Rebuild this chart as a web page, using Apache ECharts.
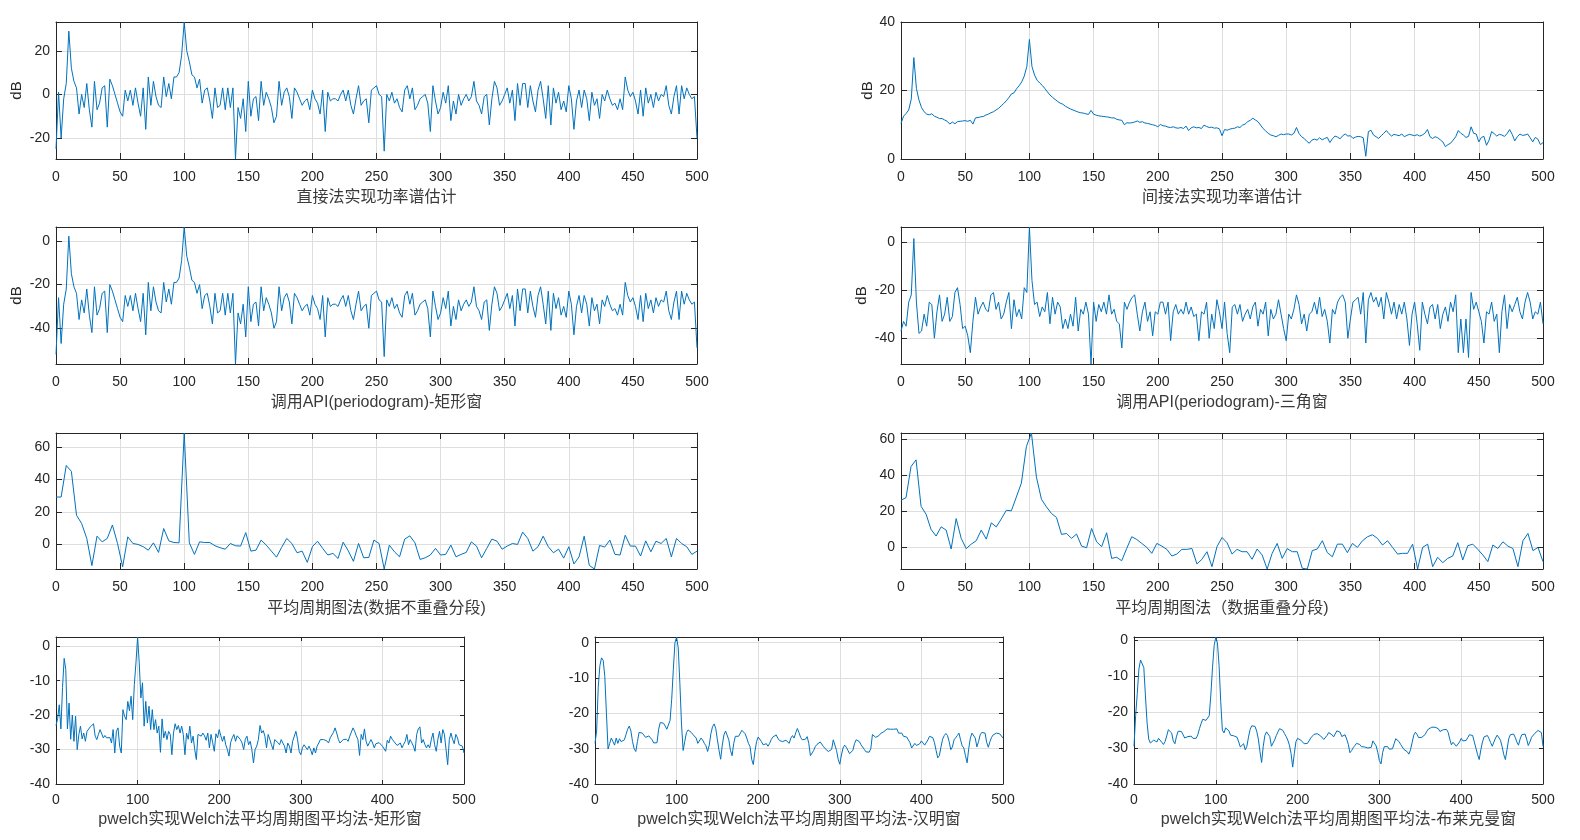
<!DOCTYPE html>
<html><head><meta charset="utf-8">
<script src="https://cdn.jsdelivr.net/npm/echarts@6/dist/echarts.min.js"></script>
<style>html,body{margin:0;padding:0;background:#fff}#c{width:1580px;height:840px}</style>
</head><body><div id="c"></div>
<script>
// ---------- data (dB values, equally spaced bins from 0 to 500 Hz) ----------
const directDb = [
 -25, 1, -20, -2, 5, 29, 12, 6, 3, -9,
 0, -6, 5, -7, -15, 6, -7, -4, 3, 4,
 -15, 7, 4, 0, -4, -8, -10, 2, -3, 2,
 -5, 3, -4, -10, 3, -16, 8, -5, 6, -1,
 -5, -6, 8, -1, 5, -2, 8, 8, 10, 18,
 33.2, 20, 15, 9, 8, 3, 7, -4, 2, 3,
 -3, -11, 3, -6, -5, 3, -7, 3, -6, 3,
 -29.6, -6, -11, -2, -17, 6, -10, -2, -1, -12,
 6, -5, 1, -2, -6, -13, -10, 6, -5, 1,
 3, -1, -11, 3, 1, -2, -5, -3, -2, -7,
 2, -2, -4, -9, 2, -17, 1, -3, -2, -2,
 -3, 0, 2, -3, 2, -5, -9, -2, 4, -5,
 -3, -2, -13, 2, 3, 4, 0, -1, -26, 0,
 -3, 1, -4, -2, -6, -8, 2, 4, -2, 3,
 -7, -5, -2, -1, 0, -4, -17, 4, -3, -9,
 -6, 1, -4, 4, -12, -3, -9, 0, -5, -2,
 0, -3, -1, 6, -3, -5, -9, -1, 0, -14,
 -2, 6, 3, -5, -3, 0, 3, -4, 2, -12,
 5, -5, 5, 5, -6, 4, -3, -8, 2, 6,
 -2, -11, 4, -14, 3, -4, 1, -7, -3, -8,
 4, -2, -16, -3, 2, -6, 2, -2, -12, 1,
 -5, -2, -11, 0, -3, 2, -2, -5, -4, -7,
 -2, -7, 8, 2, -1, 1, -3, -9, 2, -10,
 3, -4, 0, -6, 1, -3, 0, -1, 4, -5,
 -9, -1, 4, -9, 4, -2, 3, 0, -2, -1,
 -20];

const indirectDb = [
 10.4, 12.5, 13.3, 14.3, 17.5, 29.6, 20.6, 17.2, 15.0, 13.8,
 13.1, 12.9, 13.2, 12.5, 12.2, 11.8, 11.8, 11.4, 11.0, 10.2,
 10.8, 10.3, 10.9, 11.0, 11.1, 11.2, 11.0, 11.3, 10.2, 12.0,
 12.1, 12.3, 12.4, 12.8, 13.1, 13.5, 13.8, 14.3, 14.8, 15.5,
 16.2, 17.0, 17.9, 19.0, 19.3, 20.5, 21.4, 22.5, 24.2, 27.0,
 34.9, 27.0, 24.5, 23.0, 22.2, 21.5, 20.6, 19.6, 18.7, 18.0,
 17.4, 16.8, 16.3, 16.0, 15.4, 15.0, 14.6, 14.3, 14.0, 13.7,
 13.5, 13.4, 13.2, 13.0, 14.2, 13.1, 12.8, 12.6, 12.5, 12.4,
 12.3, 12.2, 12.0, 12.0, 11.6, 11.4, 11.3, 10.0, 10.6, 10.5,
 10.6, 10.8, 11.1, 10.7, 10.9, 10.5, 10.4, 10.2, 10.0, 9.8,
 9.4, 10.1, 9.7, 9.6, 9.3, 9.2, 9.4, 9.1, 9.0, 9.2,
 8.9, 9.6, 8.3, 9.1, 9.4, 9.1, 9.2, 8.9, 9.9, 9.5,
 9.2, 9.3, 9.0, 9.1, 8.8, 6.8, 8.6, 8.4, 8.7, 8.9,
 9.0, 9.4, 9.2, 9.9, 10.2, 10.9, 11.3, 11.9, 11.4, 10.9,
 9.9, 8.9, 8.2, 7.5, 7.0, 6.8, 6.5, 6.9, 7.3, 7.1,
 7.3, 7.3, 7.0, 7.5, 9.2, 7.4, 6.5, 6.0, 5.2, 4.6,
 5.5, 5.8, 5.5, 6.2, 5.6, 6.0, 6.3, 4.8, 5.9, 6.7,
 6.4, 5.9, 6.8, 7.3, 6.7, 6.8, 6.0, 6.4, 6.6, 6.5,
 6.2, 0.8, 8.0, 8.4, 7.0, 6.5, 6.0, 6.8, 7.5, 8.3,
 7.4, 6.7, 7.2, 7.0, 6.8, 7.3, 6.5, 6.9, 7.2, 7.0,
 6.8, 7.1, 6.7, 7.0, 7.5, 8.6, 6.5, 6.0, 6.5, 6.2,
 5.6, 5.0, 3.6, 4.2, 4.6, 5.5, 6.5, 8.3, 7.5, 7.0,
 6.3, 6.6, 9.4, 7.5, 7.3, 5.0, 6.3, 6.6, 4.0, 5.5,
 8.0, 7.4, 6.7, 7.2, 7.0, 6.6, 7.4, 8.6, 7.2, 5.3,
 6.5, 7.3, 6.9, 7.0, 7.3, 6.2, 5.0, 6.3, 5.8, 4.2,
 4.8];

const periodogramRectDb = [
 -52, -26, -47, -29, -22, 2.2, -15, -21, -24, -36,
 -27, -33, -22, -34, -42, -21, -34, -31, -24, -23,
 -42, -20, -23, -27, -31, -35, -37, -25, -30, -25,
 -32, -24, -31, -37, -24, -43, -19, -32, -21, -28,
 -32, -33, -19, -28, -22, -29, -19, -19, -17, -9,
 6.4, -7, -12, -18, -19, -24, -20, -31, -25, -24,
 -30, -38, -24, -33, -32, -24, -34, -24, -33, -24,
 -56.4, -33, -38, -29, -44, -21, -37, -29, -28, -39,
 -21, -32, -26, -29, -33, -40, -37, -21, -32, -26,
 -24, -28, -38, -24, -26, -29, -32, -30, -29, -34,
 -25, -29, -31, -36, -25, -44, -26, -30, -29, -29,
 -30, -27, -25, -30, -25, -32, -36, -29, -23, -32,
 -30, -29, -40, -25, -24, -23, -27, -28, -53, -27,
 -30, -26, -31, -29, -33, -35, -25, -23, -29, -24,
 -34, -32, -29, -28, -27, -31, -44, -23, -30, -36,
 -33, -26, -31, -23, -39, -30, -36, -27, -32, -29,
 -27, -30, -28, -21, -30, -32, -36, -28, -27, -41,
 -29, -21, -24, -32, -30, -27, -24, -31, -25, -39,
 -22, -32, -22, -22, -33, -23, -30, -35, -25, -21,
 -29, -38, -23, -41, -24, -31, -26, -34, -30, -35,
 -23, -29, -43, -30, -25, -33, -25, -29, -39, -26,
 -32, -29, -38, -27, -30, -25, -29, -32, -31, -34,
 -29, -34, -19, -25, -28, -26, -30, -36, -25, -37,
 -24, -31, -27, -33, -26, -30, -27, -28, -23, -32,
 -36, -28, -23, -36, -23, -29, -24, -27, -29, -28,
 -49];

const periodogramTriDb = [
 -37, -33, -35, -25, -22, 1.4, -25, -38, -37, -30,
 -35, -25, -26, -40, -29, -22, -33, -30, -23, -33,
 -31, -21, -19, -26, -36, -35, -39, -46, -33, -23,
 -30, -27, -25, -28, -29, -22, -21, -28, -25, -32,
 -30, -25, -21, -36, -24, -31, -28, -32, -19, -21,
 6.2, -16, -26, -25, -31, -27, -29, -21, -34, -23,
 -30, -25, -27, -36, -32, -36, -30, -35, -23, -37,
 -28, -30, -25, -30, -50.7, -25, -33, -26, -29, -25,
 -30, -22, -30, -28, -33, -34, -44, -25, -28, -25,
 -23, -22, -30, -37, -29, -25, -33, -29, -39, -29,
 -30, -25, -25, -30, -25, -41, -29, -26, -30, -28,
 -30, -25, -30, -27, -31, -30, -41, -29, -30, -25,
 -40, -30, -36, -24, -29, -36, -25, -38, -46, -27,
 -26, -30, -26, -33, -30, -28, -32, -27, -25, -35,
 -28, -30, -25, -39, -28, -32, -30, -24, -30, -36,
 -41, -30, -32, -28, -22, -26, -34, -30, -37, -30,
 -29, -25, -30, -23, -31, -28, -33, -42, -28, -30,
 -25, -23, -22, -25, -40, -32, -25, -24, -23, -30,
 -21, -42, -24, -21, -25, -23, -27, -23, -32, -21,
 -25, -30, -25, -32, -26, -30, -25, -32, -43, -30,
 -25, -34, -45, -25, -30, -34, -27, -26, -32, -26,
 -36, -30, -27, -33, -25, -29, -22, -46, -32, -46,
 -32, -48, -21, -28, -25, -29, -33, -42, -29, -30,
 -25, -33, -30, -46, -29, -22, -36, -26, -29, -26,
 -23, -29, -32, -25, -21, -25, -32, -29, -30, -25,
 -34];

const avgNoOverlapDb = [
 29.2, 29.2, 48.6, 45, 18, 12.9, 3.7, -13, 5.1, 1.6,
 3.7, 12, 0.6, -13.7, 4.7, 0.6, 0, -1.4, -3.5, 1,
 -4.9, 9.8, 2.2, 1.2, 1, 68.6, 1, -6.1, 1.6, 1.2,
 1.2, -0.8, -2, -2.9, 0.6, -0.8, -1, 7.3, -4.1, -3.5,
 2.7, -0.4, -4.1, -7.8, -1.8, 3.7, 0.6, -5.1, -4.1, -11,
 -1.4, 2, -2.4, -6.5, -5.5, -8.6, 1.4, -3.9, -10.4, 0.6,
 -8.2, -8, 2.7, 0.6, -15.1, -0.4, -4.5, -7.6, 3.3, 5.3,
 1, -9.2, -8.2, -6.5, -2.4, -6.5, -6.1, -0.4, -7.6, -6.1,
 -4.9, 1.6, -1, -8.2, -2.4, 3.3, 2, -2.9, -1, 0.6,
 0, 7.6, 3.7, -4.1, -1.4, 5.1, -1.4, -5.1, -2.9, -8.4,
 -1.4, -12, -7.6, 5.1, -12.9, -15.1, -0.6, -1.6, 2.7, -6.1,
 -6.5, 5.7, -1, -1, -7.1, 2.2, -4.5, 2, 0.6, 3.7,
 -7.6, 3.7, 0.6, -1.4, -6.1, -4.1];

const avgOverlapDb = [
 26.2, 27.6, 44.9, 48.6, 22.8, 18.4, 9.9, 6.3, 11.4, 9.6,
 -0.9, 16, 5, -0.7, 1.8, 3.7, 9.6, 4.6, 13.6, 11.4,
 15.8, 20.6, 20.3, 28, 35.7, 56, 63.5, 39, 26.7, 22.5,
 18.8, 16.6, 7.2, 7.7, 5, 7.4, 0.7, -0.2, 10.5, 3.1,
 0.4, 8.1, -6.1, -5.5, -7.4, -0.6, 5.9, 4.4, 2.2, 0,
 -3.3, 2.2, 0.7, -1.1, -4.8, -3.7, -1.1, -1.1, -0.6, -9.2,
 -6.6, -2.4, -10.7, 0.4, 5.5, 2.6, -3.7, -1.1, -2.4, -2.4,
 -6.6, -0.9, -4.2, -12, -3.3, 2.2, -6.1, -0.7, -2.4, -2.4,
 -11.6, -12, -1.8, -0.9, 3.7, -2.9, -5.2, 1.8, 1.8, -2.9,
 2.2, 0, 3.7, 5.9, 7, 5, 1.3, 3.7, 0, -3.7,
 -3.3, -3.3, 1.8, -12, 0, 1.8, -10.7, -5.5, -8.5, -6.1,
 -4.8, 2.6, -7, 0.9, 1.8, -1.1, -4.2, -7.9, 1.3, -0.6,
 3.1, 0.7, -0.6, -10.7, 3.7, 7.7, -1.8, 0, -7.9];

const welchRectDb = [
 -23, -21, -17, -24, -12, -3.5, -6.8, -24, -16.5, -27,
 -20, -27.6, -20.3, -30, -25.6, -23.2, -26.9, -25.2, -27.6, -24.7,
 -25.2, -23.4, -23, -22.5, -26.1, -27.1, -25.6, -24.2, -23.7, -26.6,
 -25.9, -26.6, -26.1, -26.5, -28.1, -24.2, -31, -24.7, -23.7, -29,
 -31, -18.4, -20.3, -21.3, -16, -18.7, -14.5, -21.3, -11.1, -4.8,
 2.7, -4.8, -15, -10.6, -23.2, -16, -22.3, -17.4, -24.2, -18.4,
 -24.2, -21.3, -25.2, -23.2, -30.8, -21.1, -26.6, -24.7, -27.1, -24.7,
 -25.6, -31.5, -25.2, -22.5, -24.2, -23, -25.2, -23.2, -25.6, -31.5,
 -25.2, -27, -23.2, -28.1, -26.1, -30, -32.9, -25.6, -25.2, -26.1,
 -25.2, -26, -27.3, -25.2, -29.5, -25.6, -28, -30.5, -25.4, -26.6,
 -24.2, -26, -27.6, -26.1, -28.6, -30, -31.9, -28, -26.6, -25.6,
 -27.6, -26, -25.6, -27.1, -28.1, -30, -27, -26.1, -28.6, -27.6,
 -30, -33.9, -30, -29, -27.1, -23, -25.2, -24.5, -26.1, -29.5,
 -25.6, -27, -28.6, -30, -27.1, -27.6, -28, -28.6, -27.1, -28.1,
 -29, -31, -28.1, -29, -31, -27.6, -28.1, -24.7, -27, -30.5,
 -31.5, -29.5, -28.6, -29, -30, -29, -30, -31.5, -29.5, -31,
 -29, -28.1, -27.1, -26.6, -27.1, -26.9, -27.5, -28.1, -26.6, -26.1,
 -25, -23.7, -25.2, -27, -28.1, -27.6, -27.1, -26.6, -27, -27.6,
 -26.1, -25.6, -23.7, -24.7, -26, -27.1, -31.7, -25.6, -27.1, -24,
 -27.6, -29, -28, -27.1, -28.1, -29.5, -28.3, -28.6, -28, -27.6,
 -29, -29.5, -30.5, -27.3, -28.1, -26.1, -27, -27.6, -27.1, -28.8,
 -28.5, -28.1, -29.5, -28.5, -27.6, -25.6, -28.6, -27.1, -28, -29,
 -30.5, -25.6, -24, -23.4, -28.1, -27.1, -28.5, -29.5, -28.6, -29.5,
 -27, -25.2, -28.6, -30.5, -27, -24.7, -28.1, -24.2, -25.6, -30,
 -34.4, -27.1, -25.2, -27, -28.3, -25.6, -26.6, -28.6, -28.8, -29,
 -31];

const welchHammingDb = [
 -28.5, -25, -12.5, -6.5, -4.3, -5, -9.5, -20, -30.1, -28.5,
 -27, -28, -29, -27, -28.5, -27.2, -28, -28.3, -27.5, -26,
 -24.5, -23.6, -25, -28, -30, -30.8, -28, -25.4, -25.2, -25.6,
 -26.1, -26.8, -27, -26.4, -26.8, -27.5, -28.4, -28.5, -28.3, -24.5,
 -22.6, -22.3, -22.8, -23.6, -24.5, -24.2, -22, -16, -7.5, 0,
 1.6, -1.5, -11.5, -23, -30.5, -28, -25.5, -24.7, -24.8, -25.4,
 -26, -26.5, -27, -28.5, -28.3, -27, -27.6, -28.5, -29.2, -30.8,
 -29, -25.8, -23.8, -23, -24.3, -27.5, -30.5, -33, -29, -26.1,
 -25, -25.5, -27.5, -30.5, -32, -28.5, -26.5, -26.1, -26.5, -26,
 -24.8, -25, -25.8, -27, -28.5, -29.4, -33, -34.5, -30.8, -28,
 -26.7, -27, -28, -28.9, -28.5, -28.6, -29.3, -28.5, -27.4, -26.7,
 -26.3, -26.1, -27, -27.7, -28, -28, -28, -27.6, -28, -28.5,
 -27, -26.3, -27, -25.5, -24.3, -25.5, -26.8, -27.5, -27.6, -27.3,
 -26.6, -28.5, -32, -31.5, -30.5, -29.4, -28.8, -28.5, -28.1, -28.6,
 -29.4, -30, -30.5, -30.8, -30.6, -30.2, -27.5, -28, -30.5, -33,
 -34.4, -31.8, -29.8, -29, -29.6, -30.5, -31.4, -31.2, -30.5, -28.6,
 -27.5, -27, -28, -28.9, -29.4, -30.2, -30.9, -31.3, -31, -30,
 -26, -25.5, -26.8, -27, -26.3, -25.7, -25.4, -25.2, -24.9, -24.4,
 -23.9, -24.5, -24.8, -24.5, -24.3, -24.4, -25.6, -26, -25.6, -26.5,
 -27, -26.7, -27.2, -28.3, -29.8, -30, -28.5, -29.1, -29.2, -28.6,
 -27.8, -27.4, -29, -28.8, -27.5, -26.5, -26.2, -26.9, -28.3, -30.5,
 -32.6, -32, -29.5, -27.3, -26.3, -25.7, -26.3, -28, -30.3, -29.5,
 -27.5, -26.9, -26.3, -25.6, -27.5, -29.2, -29.8, -32, -34, -30,
 -27, -25.6, -25.8, -27, -29.5, -28, -26.1, -25.4, -25.3, -25.6,
 -28.2, -29.6, -28, -26.8, -26.1, -25.7, -25.6, -25.6, -25.8, -26.3,
 -27];

const welchBlackmanDb = [
 -29.5, -21, -14.8, -8, -5.5, -5.2, -7.6, -15.5, -23, -27.5,
 -28.6, -28.2, -27.8, -28.3, -28.3, -27.3, -27.6, -28.4, -29, -28.2,
 -26.6, -24.9, -24.8, -25.8, -28, -28.8, -26.7, -25.3, -24.9, -25.4,
 -26.3, -27.2, -27.1, -26.8, -26.4, -26.7, -27.3, -27.6, -27.3, -26.3,
 -24.6, -23.2, -22, -22, -22.3, -22.6, -21, -15, -7.5, -1.5,
 0.9, -0.7, -7, -17, -25, -25.8, -24.4, -24.4, -25.2, -26.4,
 -26.7, -26.6, -26.3, -27, -28.3, -29.7, -29.3, -28.8, -30.5, -29.5,
 -26.9, -24.8, -23.8, -23.3, -24, -25.3, -27.5, -31, -34, -29.5,
 -26.5, -25.5, -25.8, -26.8, -29.5, -29, -27.7, -26.5, -25.5, -24.6,
 -24.6, -25.1, -26, -26.8, -27.8, -29.2, -31.5, -35.3, -31.5, -28.2,
 -27.3, -27.4, -27.8, -28.3, -28.8, -29.1, -28.7, -28, -27.2, -26.7,
 -26.2, -26, -26, -26.3, -26.6, -27.1, -27.6, -27.2, -26.5, -25.7,
 -25.7, -26.3, -26.9, -26.8, -25.2, -25, -25.6, -26.8, -27, -26.3,
 -27.5, -29, -31.3, -30.7, -29.9, -29.3, -28.7, -28.2, -29, -29.6,
 -30, -29.7, -29.6, -30, -30, -29.8, -28, -28.5, -29.4, -31.2,
 -33.5, -34.4, -31.2, -29.6, -29.1, -29.6, -30.3, -30.8, -30.2, -28.8,
 -27.4, -27.5, -28.2, -29, -29.7, -30.4, -30.7, -31, -31.7, -30.5,
 -28.5, -26.4, -25.6, -26.2, -27.1, -27.6, -27, -26.6, -26.2, -25.3,
 -24.7, -24.3, -24.2, -24.2, -24.2, -24.3, -24.6, -25.4, -25.4, -24.9,
 -24.6, -24.8, -25.6, -27.5, -29.1, -28.4, -28.8, -29.5, -29, -28.3,
 -27.3, -28, -28.5, -27.9, -27.1, -26.3, -26, -26.5, -28.3, -30,
 -31.8, -33.2, -30.5, -28.3, -26.9, -26.5, -26.5, -27.4, -28.5, -29.5,
 -28.3, -27.2, -26.4, -26.6, -27.8, -29.6, -31.8, -33.2, -30.5, -27.5,
 -26.3, -26, -26.1, -27, -28.3, -29.2, -27.5, -26.3, -25.9, -26.1,
 -27.5, -29.3, -28.3, -27, -26.5, -25.9, -25.4, -25.1, -25, -25.7,
 -29.5];

// tick labels
const ticksDirect = [-20, 0, 20];
const ticksIndirect = [0, 20, 40];
const ticksPeriodogram = [-40, -20, 0];
const ticksAverage = [0, 20, 40, 60];
const ticksWelch = [-40, -30, -20, -10, 0];

const titles = [
  '直接法实现功率谱估计',
  '间接法实现功率谱估计',
  '调用API(periodogram)-矩形窗',
  '调用API(periodogram)-三角窗',
  '平均周期图法(数据不重叠分段)',
  '平均周期图法（数据重叠分段)',
  'pwelch实现Welch法平均周期图平均法-矩形窗',
  'pwelch实现Welch法平均周期图平均法-汉明窗',
  'pwelch实现Welch法平均周期图平均法-布莱克曼窗'
];

// panel definitions: series values, y extent, ticks
const panels = [
  {values: directDb, ymin: -29.6, ymax: 33.2, ticks: ticksDirect, unit: 'dB'},
  {values: indirectDb, ymin: 0, ymax: 40, ticks: ticksIndirect, unit: 'dB'},
  {values: periodogramRectDb, ymin: -56.4, ymax: 6.4, ticks: ticksPeriodogram, unit: 'dB'},
  {values: periodogramTriDb, ymin: -50.7, ymax: 6.2, ticks: ticksPeriodogram, unit: 'dB'},
  {values: avgNoOverlapDb, ymin: -15.1, ymax: 68.6, ticks: ticksAverage, unit: ''},
  {values: avgOverlapDb, ymin: -12, ymax: 63.5, ticks: ticksAverage, unit: ''},
  {values: welchRectDb, ymin: -40, ymax: 2.7, ticks: ticksWelch, unit: ''},
  {values: welchHammingDb, ymin: -40, ymax: 1.6, ticks: ticksWelch, unit: ''},
  {values: welchBlackmanDb, ymin: -40, ymax: 0.9, ticks: ticksWelch, unit: ''}
];

// layout (pixels)
const layout = [
  {left: 56, top: 22, width: 641, height: 137, xStep: 50, nameGap: 31, labelGap: 11, tick: 6, unitGap: 32},
  {left: 901, top: 22, width: 642, height: 137, xStep: 50, nameGap: 31, labelGap: 11, tick: 6, unitGap: 26},
  {left: 56, top: 227, width: 641, height: 137, xStep: 50, nameGap: 31, labelGap: 11, tick: 6, unitGap: 32},
  {left: 901, top: 227, width: 642, height: 137, xStep: 50, nameGap: 31, labelGap: 11, tick: 6, unitGap: 32},
  {left: 56, top: 433, width: 641, height: 136, xStep: 50, nameGap: 32, labelGap: 11, tick: 6, unitGap: 32},
  {left: 901, top: 433, width: 642, height: 136, xStep: 50, nameGap: 32, labelGap: 11, tick: 6, unitGap: 32},
  {left: 56, top: 637, width: 408, height: 147, xStep: 100, nameGap: 28, labelGap: 9, tick: 4, unitGap: 32},
  {left: 595, top: 637, width: 408, height: 147, xStep: 100, nameGap: 28, labelGap: 9, tick: 4, unitGap: 32},
  {left: 1134, top: 637, width: 409, height: 147, xStep: 100, nameGap: 28, labelGap: 9, tick: 4, unitGap: 32}
];

const FMAX = 500;
const AX = '#262626';
const GRIDC = '#dedede';
const LINE = '#0072BD';
const FONT = "'Liberation Sans', Arial, 'Noto Sans CJK SC', sans-serif";

const grid = [], xAxis = [], yAxis = [], series = [];
panels.forEach((p, i) => {
  const L = layout[i];
  grid.push({left: L.left, top: L.top, width: L.width, height: L.height});
  const axisLine = {show: true, onZero: false, lineStyle: {color: AX, width: 1}};
  const tickStyle = {show: true, inside: true, length: L.tick, lineStyle: {color: AX, width: 1}};
  xAxis.push({
    type: 'value', gridIndex: i, min: 0, max: FMAX, interval: L.xStep, position: 'bottom',
    axisLine, axisTick: tickStyle,
    axisLabel: {color: AX, fontSize: 14, margin: L.labelGap, fontFamily: FONT},
    splitLine: {show: true, lineStyle: {color: GRIDC, width: 1}},
    name: titles[i], nameLocation: 'middle', nameGap: L.nameGap,
    nameTextStyle: {color: '#3a3a3a', fontSize: 16, fontFamily: FONT}
  });
  xAxis.push({
    type: 'value', gridIndex: i, min: 0, max: FMAX, interval: L.xStep, position: 'top',
    axisLine, axisTick: tickStyle, axisLabel: {show: false}, splitLine: {show: false}
  });
  yAxis.push({
    type: 'value', gridIndex: i, min: p.ymin, max: p.ymax, position: 'left',
    axisLine, axisTick: Object.assign({customValues: p.ticks}, tickStyle),
    axisLabel: {customValues: p.ticks, color: AX, fontSize: 14, margin: 6, fontFamily: FONT},
    splitLine: {show: true, lineStyle: {color: GRIDC, width: 1}},
    name: p.unit, nameLocation: 'middle', nameGap: L.unitGap,
    nameTextStyle: {color: AX, fontSize: 15, fontFamily: FONT}
  });
  yAxis.push({
    type: 'value', gridIndex: i, min: p.ymin, max: p.ymax, position: 'right',
    axisLine, axisTick: Object.assign({customValues: p.ticks}, tickStyle),
    axisLabel: {show: false}, splitLine: {show: false}
  });
  const n = p.values.length;
  series.push({
    type: 'line', xAxisIndex: 2 * i, yAxisIndex: 2 * i,
    data: p.values.map((v, k) => [k * FMAX / (n - 1), v]),
    symbol: 'none', showSymbol: false, clip: true,
    lineStyle: {color: LINE, width: 1}, z: 3
  });
});

const chart = echarts.init(document.getElementById('c'), null, {renderer: 'canvas'});
chart.setOption({animation: false, backgroundColor: '#ffffff', grid, xAxis, yAxis, series});
</script>
</body></html>
